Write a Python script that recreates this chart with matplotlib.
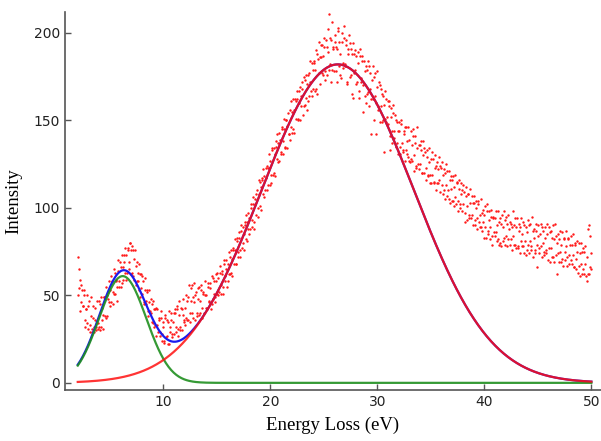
import numpy as np
import matplotlib.pyplot as plt

# measured spectrum, two interleaved sweeps, one point every 0.1 eV each
energyStart = 2.0
energyStartB = 2.05
energyStep = 0.1
intensity = [
    72, 54, 59, 46, 53, 44, 50, 36, 42, 34,
    44, 33, 38, 29, 44, 32, 36, 30, 47, 34,
    32, 45, 32, 43, 39, 49, 37, 50, 48, 46,
    53, 46, 58, 52, 51, 63, 58, 55, 64, 55,
    66, 57, 66, 73, 63, 73, 63, 77, 69, 80,
    76, 63, 76, 59, 67, 58, 63, 53, 62, 54,
    51, 58, 46, 53, 47, 53, 41, 46, 40, 45,
    34, 42, 33, 43, 33, 29, 37, 29, 37, 24,
    32, 24, 37, 27, 35, 22, 32, 40, 28, 35,
    28, 40, 32, 44, 31, 39, 30, 42, 39, 35,
    43, 37, 47, 36, 56, 40, 47, 56, 37, 46,
    50, 40, 54, 39, 47, 56, 43, 51, 40, 50,
    50, 43, 55, 47, 54, 45, 60, 51, 49, 58,
    51, 60, 52, 63, 56, 62, 55, 68, 61, 65,
    68, 62, 72, 63, 71, 77, 68, 76, 68, 81,
    75, 83, 76, 87, 80, 85, 92, 82, 92, 88,
    94, 88, 100, 93, 102, 92, 102, 108, 100, 108,
    101, 112, 117, 108, 118, 110, 117, 124, 113, 123,
    127, 119, 133, 120, 131, 138, 128, 137, 127, 139,
    132, 145, 138, 145, 134, 150, 147, 142, 156, 146,
    155, 145, 156, 162, 151, 162, 150, 160, 169, 158,
    168, 158, 173, 163, 171, 161, 177, 172, 167, 183,
    168, 183, 179, 168, 188, 177, 186, 193, 177, 187,
    192, 178, 196, 176, 189, 211, 182, 196, 179, 192,
    195, 178, 191, 201, 181, 188, 174, 195, 183, 197,
    181, 193, 171, 188, 194, 176, 188, 163, 188, 179,
    187, 172, 183, 167, 187, 174, 184, 170, 178, 160,
    179, 166, 181, 168, 142, 173, 162, 175, 164, 142,
    169, 158, 170, 158, 165, 150, 159, 151, 162, 152,
    148, 158, 133, 152, 144, 154, 144, 150, 137, 144,
    144, 135, 148, 137, 133, 142, 146, 133, 138, 129,
    139, 128, 136, 145, 130, 137, 123, 134, 125, 136,
    125, 133, 120, 130, 134, 123, 129, 119, 126, 119,
    128, 119, 128, 114, 123, 124, 114, 122, 116, 124,
    113, 119, 110, 120, 113, 121, 110, 105, 116, 111,
    116, 104, 112, 106, 115, 104, 111, 100, 108, 110,
    102, 109, 92, 107, 101, 108, 96, 103, 96, 103,
    103, 93, 100, 94, 102, 92, 96, 89, 97, 92,
    96, 89, 98, 87, 93, 89, 95, 84, 94, 86,
    94, 86, 90, 82, 92, 80, 91, 89, 83, 93,
    84, 91, 82, 88, 92, 82, 89, 84, 90, 79,
    89, 78, 87, 89, 81, 85, 78, 90, 81, 73,
    86, 79, 90, 81, 78, 87, 83, 76, 87, 79,
    84, 77, 85, 78, 89, 80, 75, 83, 76, 85,
    77, 86, 77, 83, 72, 82, 91, 73, 80, 74,
    82, 75, 79, 71, 82, 75, 78, 72, 82, 73,
    79, 70, 79, 73, 66, 79, 71, 75, 67, 74,
    68, 75, 65, 75, 68, 61, 72, 62, 90, 66,
    74,
]
intensityB = [
    50, 65, 41, 56, 44, 53, 32, 42, 50, 31,
    47, 29, 49, 31, 37, 29, 43, 32, 31, 47,
    30, 49, 36, 31, 49, 38, 55, 38, 52, 58,
    44, 61, 45, 65, 51, 59, 47, 70, 58, 69,
    55, 73, 59, 69, 77, 59, 76, 65, 80, 62,
    78, 61, 71, 76, 56, 69, 58, 68, 49, 62,
    61, 45, 60, 45, 52, 38, 53, 41, 48, 35,
    47, 32, 42, 27, 42, 36, 27, 41, 28, 35,
    23, 39, 26, 36, 22, 41, 29, 36, 26, 40,
    42, 29, 42, 27, 47, 32, 43, 30, 48, 36,
    33, 50, 36, 49, 35, 54, 40, 49, 57, 36,
    52, 38, 48, 55, 40, 53, 37, 52, 58, 43,
    42, 57, 46, 57, 42, 61, 48, 58, 46, 62,
    63, 50, 67, 51, 64, 51, 70, 58, 70, 55,
    58, 75, 62, 76, 61, 76, 82, 68, 83, 72,
    86, 72, 90, 77, 89, 76, 90, 96, 81, 97,
    85, 102, 89, 106, 88, 105, 96, 110, 95, 116,
    115, 99, 116, 122, 106, 123, 110, 123, 131, 113,
    114, 134, 119, 134, 118, 135, 142, 126, 143, 131,
    146, 131, 151, 135, 150, 134, 154, 142, 139, 161,
    143, 162, 143, 161, 167, 151, 167, 150, 164, 172,
    153, 175, 159, 176, 156, 176, 164, 184, 164, 179,
    184, 167, 190, 165, 185, 195, 171, 186, 193, 176,
    197, 173, 192, 202, 179, 197, 172, 206, 191, 178,
    199, 192, 172, 203, 195, 176, 200, 180, 204, 182,
    196, 172, 191, 199, 175, 191, 165, 194, 177, 190,
    171, 189, 163, 191, 172, 187, 155, 184, 164, 181,
    165, 184, 158, 177, 162, 181, 150, 177, 160, 178,
    156, 172, 149, 168, 149, 164, 132, 167, 149, 161,
    161, 141, 157, 137, 159, 140, 153, 135, 149, 131,
    149, 131, 150, 132, 144, 127, 146, 131, 146, 127,
    126, 144, 127, 141, 121, 141, 124, 146, 122, 136,
    138, 120, 138, 120, 132, 116, 133, 118, 134, 114,
    114, 132, 115, 130, 110, 126, 114, 129, 109, 123,
    126, 108, 122, 105, 125, 107, 121, 103, 118, 104,
    118, 101, 119, 102, 114, 98, 116, 102, 114, 98,
    113, 97, 112, 93, 108, 94, 111, 94, 107, 90,
    107, 90, 104, 88, 104, 89, 105, 87, 99, 83,
    101, 83, 102, 85, 98, 82, 99, 79, 95, 84,
    98, 81, 98, 79, 94, 78, 96, 81, 98, 79,
    95, 78, 96, 79, 91, 76, 98, 79, 94, 77,
    94, 77, 91, 74, 94, 78, 92, 74, 89, 76,
    93, 74, 91, 76, 95, 72, 88, 74, 91, 66,
    90, 74, 91, 72, 87, 73, 89, 74, 91, 70,
    89, 69, 87, 72, 90, 69, 84, 62, 85, 69,
    87, 69, 86, 67, 83, 70, 87, 67, 83, 68,
    84, 68, 85, 66, 80, 65, 81, 63, 80, 61,
    80, 62, 77, 62, 78, 58, 88, 62, 84, 65,
]

# gaussian fit parameters: amplitude, centre (eV), sigma (eV)
plasmonLow = [61.0, 6.2, 2.2]
plasmonHigh = [182.0, 26.3, 7.1]


def gauss(x, amp, mu, sigma):
    return amp * np.exp(-(x - mu) ** 2 / (2 * sigma ** 2))


energy = energyStart + energyStep * np.arange(len(intensity))
energyB = energyStartB + energyStep * np.arange(len(intensityB))
xFit = np.linspace(energy[0], energy[-1], 600)
g1 = gauss(xFit, *plasmonLow)
g2 = gauss(xFit, *plasmonHigh)

fig = plt.figure(figsize=(6.01, 4.41), dpi=100)
ax = fig.add_axes([0.108, 0.116, 0.892, 0.857])

ax.scatter(np.concatenate([energy, energyB]), intensity + intensityB,
           s=3, color='#ff1a1a', linewidths=0, zorder=1)
ax.plot(xFit, g1 + g2, color='#1a1aee', lw=1.6, zorder=2)
ax.plot(xFit, g1, color='#1f8f1f', lw=1.6, alpha=0.9, zorder=3)
ax.plot(xFit, g2, color='#ff1010', lw=1.6, alpha=0.85, zorder=4)

ax.set_xlim(0.8, 50.9)
ax.set_ylim(-4, 212)
ax.set_xticks([10, 20, 30, 40, 50])
ax.set_yticks([0, 50, 100, 150, 200])

for s in ['top', 'right']:
    ax.spines[s].set_visible(False)
for s in ['left', 'bottom']:
    ax.spines[s].set_color('#555555')
    ax.spines[s].set_linewidth(1.2)
ax.tick_params(direction='in', length=4, width=1, color='#555555',
               labelsize=10, labelcolor='#222222')

ax.set_xlabel('Energy Loss (eV)', family='Liberation Serif', fontsize=13.5, labelpad=6)
ax.set_ylabel('Intensity', family='Liberation Serif', fontsize=13.5, labelpad=8)

plt.savefig('out.png', dpi=100)
